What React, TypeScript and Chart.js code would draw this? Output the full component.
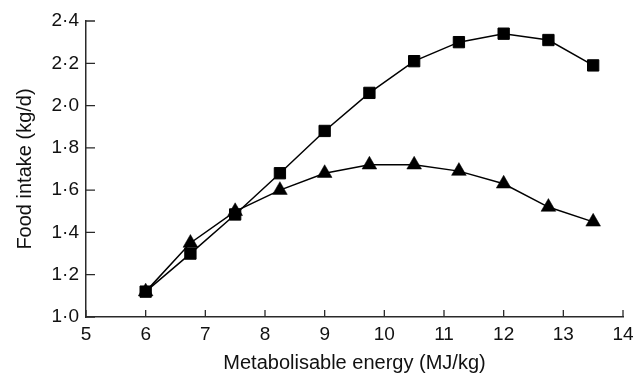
import React, { useEffect, useRef } from "react";
import { Chart, registerables } from "chart.js";

Chart.register(...registerables);

const energy = [6, 6.75, 7.5, 8.25, 9, 9.75, 10.5, 11.25, 12, 12.75, 13.5];
const squareIntake = [1.12, 1.3, 1.485, 1.68, 1.88, 2.06, 2.21, 2.3, 2.34, 2.31, 2.19];
const triangleIntake = [1.12, 1.35, 1.5, 1.6, 1.68, 1.72, 1.72, 1.69, 1.63, 1.52, 1.45];
const xTicks = [5, 6, 7, 8, 9, 10, 11, 12, 13, 14];
const yTicks = [1.0, 1.2, 1.4, 1.6, 1.8, 2.0, 2.2, 2.4];

const FONT = "'Liberation Sans', Arial, Helvetica, sans-serif";
const AXIS = "#2a2a2a";
const TEXT = "#111";

const innerTicks = {
  id: "innerTicks",
  afterDraw(chart: any) {
    const { ctx, chartArea, scales } = chart;
    ctx.save();
    ctx.strokeStyle = AXIS;
    ctx.lineWidth = 1.3;
    ctx.beginPath();
    for (const v of xTicks) {
      const px = scales.x.getPixelForValue(v);
      ctx.moveTo(px, chartArea.bottom);
      ctx.lineTo(px, chartArea.bottom - 7);
    }
    for (const v of yTicks) {
      const py = scales.y.getPixelForValue(v);
      ctx.moveTo(chartArea.left, py);
      ctx.lineTo(chartArea.left + 9, py);
    }
    ctx.stroke();
    ctx.restore();
  },
};

export default function App() {
  const ref = useRef<HTMLCanvasElement>(null);
  useEffect(() => {
    document.body.style.margin = "0";
    const chart = new Chart(ref.current!, {
      type: "line",
      data: {
        datasets: [
          {
            label: "squares",
            data: energy.map((x, i) => ({ x, y: squareIntake[i] })),
            borderColor: "#000",
            backgroundColor: "#000",
            borderWidth: 1.5,
            pointStyle: "rect",
            pointRadius: 8,
            pointBorderWidth: 1,
            pointBackgroundColor: "#000",
            pointBorderColor: "#000",
            tension: 0,
          },
          {
            label: "triangles",
            data: energy.map((x, i) => ({ x, y: triangleIntake[i] })),
            borderColor: "#000",
            backgroundColor: "#000",
            borderWidth: 1.5,
            pointStyle: "triangle",
            pointRadius: 8.5,
            pointBorderWidth: 0.5,
            pointBackgroundColor: "#000",
            pointBorderColor: "#000",
            tension: 0,
          },
        ],
      },
      options: {
        animation: false,
        responsive: false,
        events: [],
        layout: { padding: { top: 21, right: 21, left: 0, bottom: 0 } },
        plugins: { legend: { display: false }, tooltip: { enabled: false } },
        scales: {
          x: {
            type: "linear",
            min: 5,
            max: 14,
            afterBuildTicks: (s: any) => {
              s.ticks = xTicks.map((v) => ({ value: v }));
            },
            afterFit: (s: any) => {
              s.height = 58;
            },
            grid: { display: false, drawTicks: false },
            border: { display: true, color: AXIS, width: 1.5 },
            ticks: {
              color: TEXT,
              font: { family: FONT, size: 19 },
              padding: 6,
              maxRotation: 0,
              callback: (v: any) => String(v),
            },
            title: {
              display: true,
              text: "Metabolisable energy (MJ/kg)",
              color: TEXT,
              font: { family: FONT, size: 20 },
              padding: { top: 0, bottom: 0 },
            },
          },
          y: {
            type: "linear",
            min: 1.0,
            max: 2.4,
            afterBuildTicks: (s: any) => {
              s.ticks = yTicks.map((v) => ({ value: v }));
            },
            afterFit: (s: any) => {
              s.width = 86;
            },
            grid: { display: false, drawTicks: false },
            border: { display: true, color: AXIS, width: 1.5 },
            ticks: {
              color: TEXT,
              font: { family: FONT, size: 19 },
              padding: 7,
              callback: (v: any) => Number(v).toFixed(1).replace(".", "·"),
            },
            title: {
              display: true,
              text: "Food intake (kg/d)",
              color: TEXT,
              font: { family: FONT, size: 20 },
              padding: { top: 13, bottom: 0 },
            },
          },
        },
      },
      plugins: [innerTicks],
    });
    return () => chart.destroy();
  }, []);
  return (
    <canvas
      ref={ref}
      width={644}
      height={375}
      style={{ display: "block", width: 644, height: 375 }}
    />
  );
}
